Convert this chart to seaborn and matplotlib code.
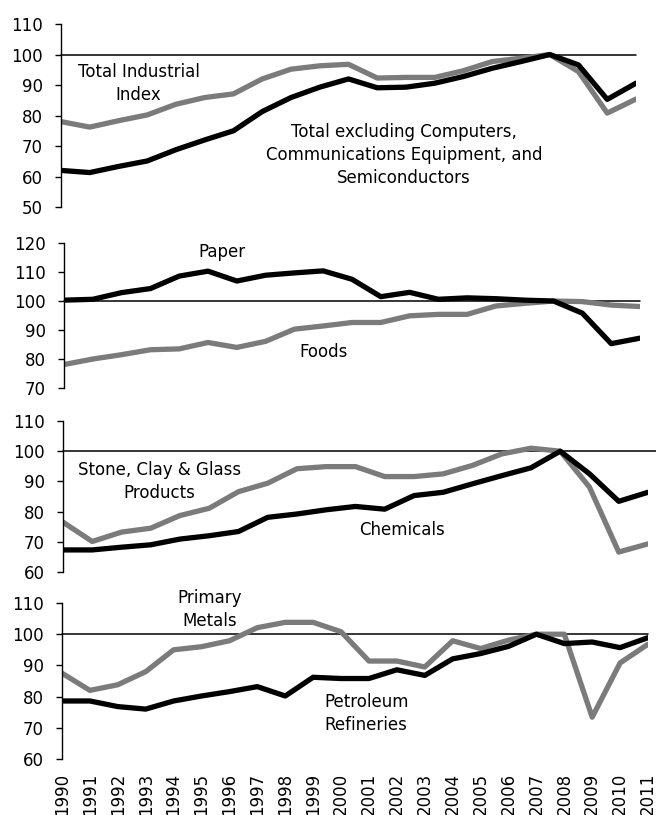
import numpy as np
import pandas as pd
import matplotlib
matplotlib.use("Agg")
import matplotlib.pyplot as plt
import seaborn as sns

# ---- data (index, 2007 = 100) ----
years_short = list(range(1990, 2011))   # panels 1-3
years_long = list(range(1990, 2012))    # bottom panel

total_industrial = [78.0, 76.2, 78.3, 80.2, 83.7, 85.9, 87.1, 92.0, 95.2, 96.3, 96.8,
                    92.3, 92.5, 92.5, 94.7, 97.7, 98.8, 100.0, 94.4, 80.8, 85.4]
total_ex_tech = [62.0, 61.3, 63.3, 65.1, 68.8, 72.0, 75.0, 81.3, 85.9, 89.3, 92.0,
                 89.1, 89.3, 90.6, 92.8, 95.5, 97.7, 100.0, 96.6, 85.3, 90.6]

paper = [100.3, 100.6, 102.9, 104.3, 108.6, 110.3, 106.9, 108.9, 109.7, 110.4, 107.5,
         101.5, 103.0, 100.6, 101.1, 100.8, 100.3, 100.0, 95.8, 85.3, 87.2]
foods = [78.1, 80.0, 81.5, 83.2, 83.5, 85.7, 84.0, 86.1, 90.3, 91.4, 92.6,
         92.6, 94.9, 95.4, 95.4, 98.3, 99.2, 100.0, 99.8, 98.6, 98.1]

stone_clay_glass = [76.5, 70.1, 73.2, 74.5, 78.7, 81.1, 86.6, 89.4, 94.2, 94.9, 94.9,
                    91.6, 91.6, 92.5, 95.3, 99.1, 101.0, 100.0, 88.1, 66.6, 69.3]
chemicals = [67.3, 67.3, 68.2, 69.0, 70.9, 72.0, 73.4, 78.1, 79.2, 80.6, 81.7,
             80.8, 85.3, 86.4, 89.2, 91.9, 94.5, 100.0, 92.5, 83.4, 86.4]

primary_metals = [87.5, 82.0, 83.8, 88.0, 95.0, 96.0, 97.9, 102.1, 103.8, 103.8, 100.8,
                  91.4, 91.4, 89.5, 97.9, 95.4, 98.1, 100.0, 100.0, 73.4, 90.8, 96.8]
petroleum = [78.6, 78.6, 76.8, 76.0, 78.6, 80.2, 81.6, 83.2, 80.2, 86.2, 85.8,
             85.8, 88.6, 86.8, 92.1, 93.8, 96.1, 100.0, 97.0, 97.5, 95.7, 98.9]

GRAY = "#7b7b7b"
BLACK = "#000000"

sns.set_theme(style="white")
plt.rcParams["font.family"] = ["DejaVu Sans"]

fig = plt.figure(figsize=(6.56, 8.15), dpi=100)

panels = [
    # rect, years, gray series, black series, ylim, annotations, hline extends
    ([0.0930, 0.7460, 0.8765, 0.2245], years_short, total_industrial, total_ex_tech, (50, 110),
     [(1992.7, 90.5, "Total Industrial\nIndex"),
      (2001.93, 67.0, "Total excluding Computers,\nCommunications Equipment, and\nSemiconductors")], 1.0),
    ([0.0976, 0.5239, 0.8780, 0.1779], years_short, foods, paper, (70, 120),
     [(1995.5, 116.9, "Paper"), (1999.0, 82.4, "Foods")], 1.0),
    ([0.0960, 0.2982, 0.8918, 0.1852], years_short, stone_clay_glass, chemicals, (60, 110),
     [(1993.3, 90.0, "Stone, Clay & Glass\nProducts"), (2001.6, 73.9, "Chemicals")], 1.02),
    ([0.0945, 0.0687, 0.8933, 0.1914], years_long, primary_metals, petroleum, (60, 110),
     [(1995.3, 107.8, "Primary\nMetals"), (2000.9, 74.6, "Petroleum\nRefineries")], 1.0),
]

for i, (rect, yrs, gray_vals, black_vals, ylim, notes, hl_end) in enumerate(panels):
    ax = fig.add_axes(rect)
    df = pd.DataFrame({"year": yrs, "gray": gray_vals, "black": black_vals})

    ax.axhline(100, xmin=0, xmax=hl_end, color="black", lw=1.1, clip_on=False, zorder=1)
    sns.lineplot(data=df, x="year", y="gray", ax=ax, color=GRAY, lw=3.8, zorder=2)
    sns.lineplot(data=df, x="year", y="black", ax=ax, color=BLACK, lw=3.8, zorder=3)

    ax.set_xlim(yrs[0], yrs[-1])
    ax.set_ylim(*ylim)
    ax.set_yticks(np.arange(ylim[0], ylim[1] + 1, 10))
    ax.set_xlabel("")
    ax.set_ylabel("")

    for side in ["top", "right", "bottom"]:
        ax.spines[side].set_visible(False)
    ax.spines["left"].set_color("black")
    ax.spines["left"].set_linewidth(1.0)

    ax.tick_params(axis="y", left=True, direction="out", length=4, width=1,
                   color="black", labelsize=12, pad=9, labelcolor="black")

    if i == 3:
        ax.set_xticks(yrs)
        ax.set_xticklabels([str(y) for y in yrs], rotation=90, fontsize=12)
        ax.tick_params(axis="x", bottom=False, length=0, pad=10, labelcolor="black")
    else:
        ax.set_xticks([])

    for x, y, txt in notes:
        ax.text(x, y, txt, ha="center", va="center", fontsize=12,
                linespacing=1.35, color="black", zorder=4)

fig.savefig("out.png", dpi=100)
